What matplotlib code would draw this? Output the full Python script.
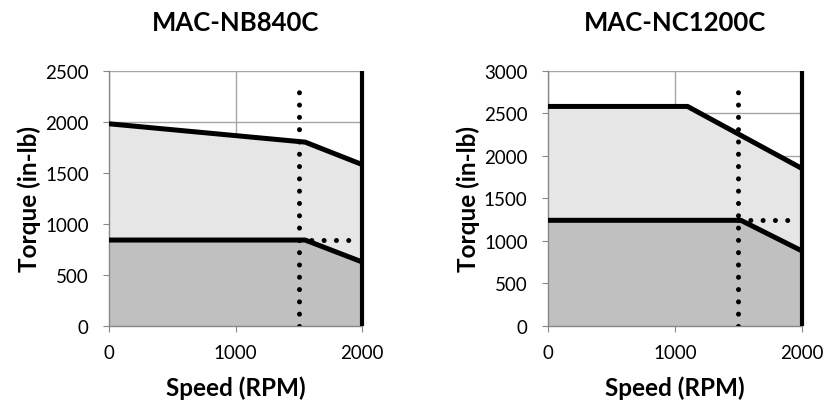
import matplotlib
matplotlib.use("Agg")
import matplotlib.pyplot as plt

plt.rcParams['font.family'] = ['Lato', 'DejaVu Sans']

# MAC-NB840C
nb_speed = [0, 1550, 2000]
nb_peak = [1980, 1800, 1580]
nb_cont = [840, 840, 625]
nb_ymax = 2500
nb_yticks = [0, 500, 1000, 1500, 2000, 2500]

# MAC-NC1200C
nc_peak_speed = [0, 1100, 2000]
nc_peak = [2580, 2580, 1850]
nc_cont_speed = [0, 1520, 2000]
nc_cont = [1240, 1240, 880]
nc_ymax = 3000
nc_yticks = [0, 500, 1000, 1500, 2000, 2500, 3000]

# rated point markers (dotted)
nb_rated_speed = 1500
nb_rated_top = 2290
nb_rated_torque = 840
nc_rated_speed = 1500
nc_rated_top = 2750
nc_rated_torque = 1240
max_speed = 2000
xticks = [0, 1000, 2000]

fig = plt.figure(figsize=(8.25, 4.06), dpi=100)
ax1 = fig.add_axes([0.132, 0.1953, 0.307, 0.628])
ax2 = fig.add_axes([0.664, 0.1953, 0.308, 0.628])

dot = (0, (0.01, 2.45))


def draw(ax, title, ps, peak, cs, cont, ymax, yticks, rs, rtop, rt):
    ax.fill_between(ps, peak, color='#e6e6e6', lw=0, zorder=1)
    ax.fill_between(cs, cont, color='#c0c0c0', lw=0, zorder=1.5)
    ax.plot(ps, peak, color='black', lw=3.6, solid_capstyle='butt', zorder=4)
    ax.plot(cs, cont, color='black', lw=3.6, solid_capstyle='butt', zorder=4)
    ax.plot([max_speed, max_speed], [0, ymax], color='black', lw=3.0,
            solid_capstyle='butt', zorder=4, clip_on=False)
    ax.plot([rs, rs], [0, rtop], color='black', lw=3.6, linestyle=dot,
            dash_capstyle='round', zorder=5)
    ax.plot([rs, max_speed - 50], [rt, rt], color='black', lw=3.6, linestyle=dot,
            dash_capstyle='round', zorder=5)
    ax.set_xlim(0, max_speed)
    ax.set_ylim(0, ymax)
    ax.set_xticks(xticks)
    ax.set_yticks(yticks)
    ax.grid(True, color='#a6a6a6', lw=1, zorder=0)
    ax.set_axisbelow(True)
    for s in ['top', 'right']:
        ax.spines[s].set_visible(False)
    for s in ['left', 'bottom']:
        ax.spines[s].set_color('#888888')
        ax.spines[s].set_linewidth(1)
    ax.tick_params(direction='out', length=4.5, color='#888888', labelsize=13.5,
                   pad=10)
    ax.tick_params(axis='x', pad=9)
    ax.set_title(title, fontsize=18.5, fontweight='bold', pad=29)
    ax.set_xlabel('Speed (RPM)', fontsize=17.5, fontweight='bold', labelpad=10)
    ax.set_ylabel('Torque (in-lb)', fontsize=17.5, fontweight='bold', labelpad=3)


draw(ax1, 'MAC-NB840C', nb_speed, nb_peak, nb_speed, nb_cont, nb_ymax,
     nb_yticks, nb_rated_speed, nb_rated_top, nb_rated_torque)
draw(ax2, 'MAC-NC1200C', nc_peak_speed, nc_peak, nc_cont_speed, nc_cont,
     nc_ymax, nc_yticks, nc_rated_speed, nc_rated_top, nc_rated_torque)

fig.savefig('out.png', dpi=100)
